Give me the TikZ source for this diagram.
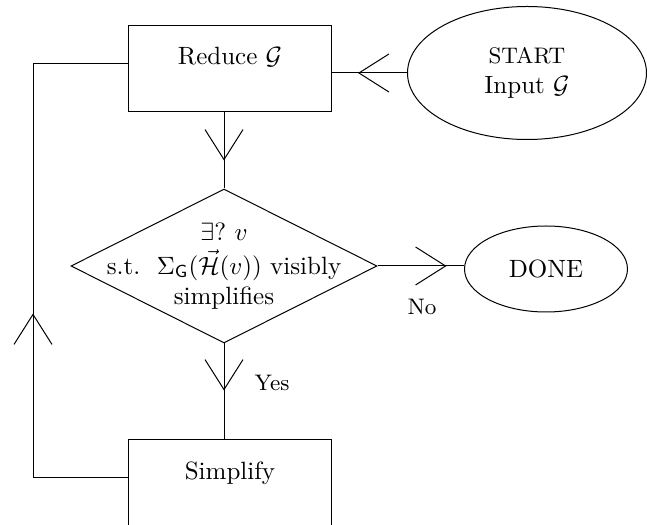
\documentclass[tikz,border=0pt]{standalone}
\usetikzlibrary{shapes.geometric,arrows.meta,decorations.markings}
\tikzset{
  box/.style={draw, rectangle, inner sep=0pt, minimum width=80.8pt, text height=15.6pt, text depth=18.8pt},
  ell/.style={draw, ellipse, inner sep=0pt, align=center},
  chev/.style={postaction={decorate}, decoration={markings, mark=at position #1 with {\arrow{Straight Barb[length=12pt,width=15.2pt]}}}},
  lbl/.style={font=\small}
}
\begin{document}
\begin{tikzpicture}[x=0.4pt,y=-0.4pt]
\useasboundingbox (0,0) rectangle (647,525);
\node[box] (red) at (230,69) {Reduce $\mathcal{G}$};
\node[ell, minimum width=95.6pt, minimum height=53.2pt] (start) at (527,73) {{\small START}\\ Input $\mathcal{G}$};
\node[diamond, draw, inner sep=0pt, minimum width=122.4pt, minimum height=61.6pt] (dia) at (224,266) {};
\node[align=center] (diatxt) at (dia) {$\exists?\ v$\\[1.5pt] s.t.\ \ $\Sigma_{\mathsf{G}}(\vec{\mathcal{H}}(v))$ visibly\\ simplifies};
\node[ell, minimum width=65.2pt, minimum height=34.4pt] (done) at (546,269) {DONE};
\node[box] (simp) at (230,483) {Simplify};
\coordinate (lp) at (33,0);
\node[lbl] (no) at (422,307) {No};
\node[lbl] (yes) at (272,383) {Yes};
\draw[chev=19.6pt] (start.west) -- (start.west -| red.east);
\draw[chev=19.2pt] (dia.north |- red.south) -- (dia.north);
\draw[chev=27.6pt] (dia.east) -- (dia.east -| done.west);
\draw[chev=18.8pt] (dia.south) -- (dia.south |- simp.north);
\draw[chev=104pt] ([yshift=2pt]simp.west) -- ([yshift=2pt]simp.west -| lp) -- ([yshift=2pt]red.west -| lp) -- ([yshift=2pt]red.west);
\end{tikzpicture}
\end{document}
